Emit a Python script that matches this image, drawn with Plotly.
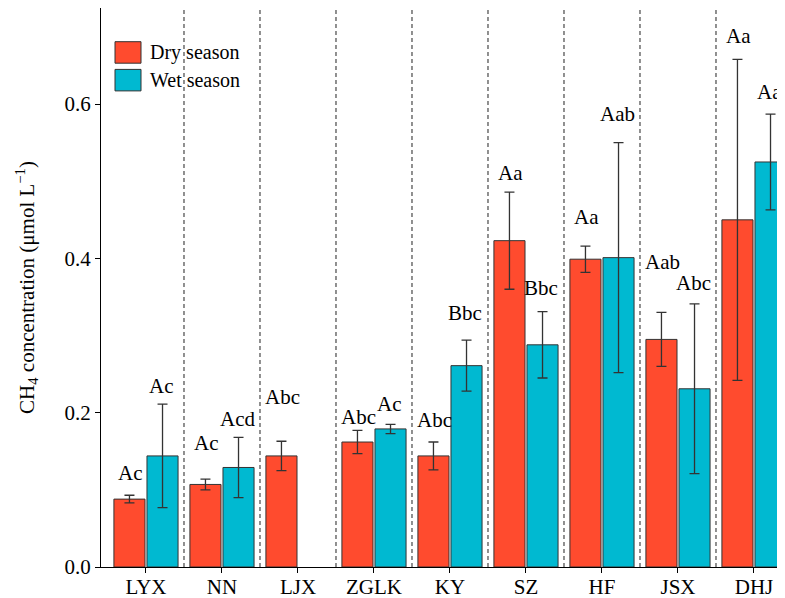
import plotly.graph_objects as go

sites = ["LYX", "NN", "LJX", "ZGLK", "KY", "SZ", "HF", "JSX", "DHJ"]
dry_mean = [0.088, 0.107, 0.144, 0.162, 0.144, 0.423, 0.399, 0.295, 0.450]
dry_err = [0.005, 0.007, 0.019, 0.015, 0.018, 0.063, 0.017, 0.035, 0.208]
wet_mean = [0.144, 0.129, None, 0.179, 0.261, 0.288, 0.401, 0.231, 0.525]
wet_err = [0.067, 0.039, None, 0.006, 0.033, 0.043, 0.149, 0.110, 0.062]
dry_labels = ["Ac", "Ac", "Abc", "Abc", "Abc", "Aa", "Aa", "Aab", "Aa"]
wet_labels = ["Ac", "Acd", "", "Ac", "Bbc", "Bbc", "Aab", "Abc", "Aa"]
dry_label_y = [0.1215, 0.1603, 0.2207, 0.1948, 0.1905, 0.5111, 0.4541, 0.3957, 0.6883]
wet_label_y = [0.2346, 0.1914, None, 0.2113, 0.3292, 0.3612, 0.5868, 0.3677, 0.6161]

DRY = "#FF4B2E"
WET = "#00B9D1"
FONT = "Liberation Serif"

# figure is placed 8px from the page corner by the default body margin
W, H = 777, 590
L, R, T, B = 93, 0, 0, 31
PW, PH = W - L - R, H - T - B

xs = list(range(len(sites)))
fig = go.Figure()
fig.add_trace(go.Bar(
    x=xs, y=dry_mean, name="Dry season", marker=dict(color=DRY, line=dict(color="#333333", width=1)),
    error_y=dict(type="data", array=dry_err, color="#333333", thickness=1.3, width=5),
    showlegend=False))
fig.add_trace(go.Bar(
    x=xs, y=wet_mean, name="Wet season", marker=dict(color=WET, line=dict(color="#333333", width=1)),
    error_y=dict(type="data", array=[e if e is not None else 0 for e in wet_err], color="#333333", thickness=1.3, width=5),
    showlegend=False))

# dashed separators between sites
for i in range(len(sites) - 1):
    fig.add_shape(type="line", x0=i + 0.5, x1=i + 0.5, y0=0, y1=1, xref="x", yref="y domain",
                  line=dict(color="#555555", width=1.3, dash="4px,3px"), layer="below")

# letters above bars
offset = 0.2
for i in range(len(sites)):
    if dry_labels[i]:
        fig.add_annotation(x=i - offset, y=dry_label_y[i], text=dry_labels[i], showarrow=False,
                           font=dict(family=FONT, size=21, color="black"), yanchor="middle", xanchor="center")
    if wet_labels[i] and wet_label_y[i] is not None:
        fig.add_annotation(x=i + offset, y=wet_label_y[i], text=wet_labels[i], showarrow=False,
                           font=dict(family=FONT, size=21, color="black"), yanchor="middle", xanchor="center")

# legend drawn manually (positions in screen px relative to plot area)
legend_items = [("Dry season", DRY), ("Wet season", WET)]
for k, (lab, col) in enumerate(legend_items):
    top = 41.7 + k * 27.7 - 8
    fig.add_shape(type="rect", xref="paper", yref="paper",
                  x0=(115 - 101) / PW, x1=(141 - 101) / PW,
                  y0=(PH - (top + 21.5)) / PH, y1=(PH - top) / PH,
                  fillcolor=col, line=dict(color="#333333", width=1))
    fig.add_annotation(xref="paper", yref="paper", x=(148 - 101) / PW, y=(PH - (top + 10.5)) / PH,
                       text=lab, showarrow=False, xanchor="left", yanchor="middle",
                       font=dict(family=FONT, size=20, color="black"))

fig.update_layout(
    width=W, height=H,
    margin=dict(l=L, r=R, t=T, b=B, autoexpand=False),
    plot_bgcolor="white", paper_bgcolor="white",
    barmode="group", bargap=0.13, bargroupgap=0.06,
    font=dict(family=FONT, size=21, color="black"),
    xaxis=dict(range=[-0.592, 8.408], tickmode="array", tickvals=xs, ticktext=sites,
               showline=True, linecolor="black", linewidth=1.3, mirror=True,
               ticks="outside", ticklen=5, tickcolor="black", showgrid=False, zeroline=False,
               ticklabelstandoff=-4,
               tickfont=dict(family=FONT, size=21)),
    yaxis=dict(range=[0, 0.7246], tickvals=[0, 0.2, 0.4, 0.6], tickformat=".1f",
               showline=True, linecolor="black", linewidth=1.3,
               ticks="outside", ticklen=5, tickcolor="black", showgrid=False, zeroline=False,
               tickfont=dict(family=FONT, size=21),
               title=dict(text="CH<sub>4</sub> concentration (μmol L<sup>−1</sup>)",
                          font=dict(family=FONT, size=21), standoff=24)),
)

fig.write_html("out.html")
